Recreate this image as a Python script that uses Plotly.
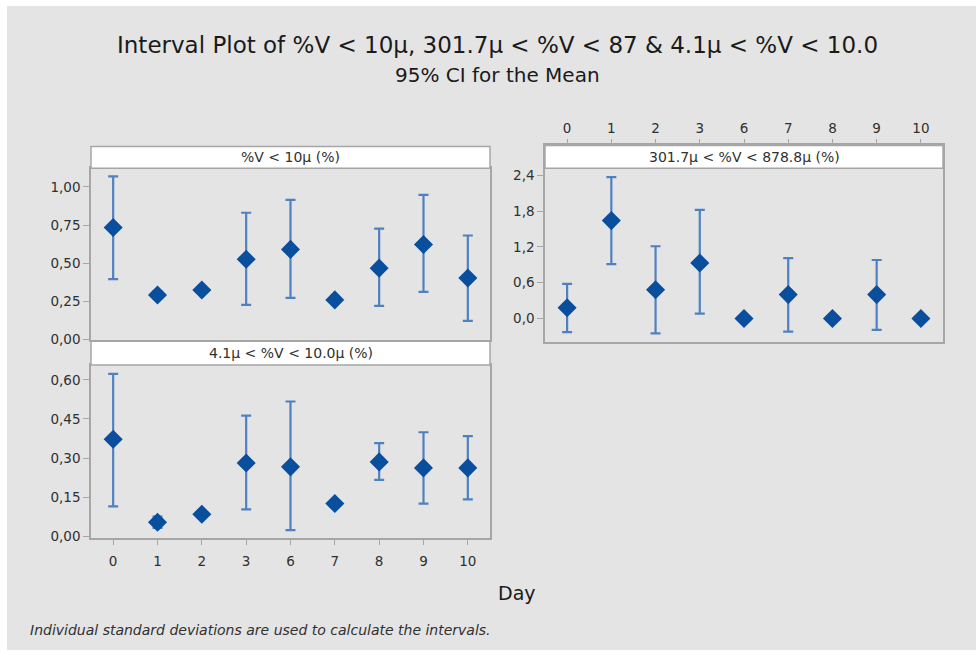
import plotly.graph_objects as go

W, H = 976, 657

days = ["0", "1", "2", "3", "6", "7", "8", "9", "10"]

# %V < 10µ (%)
p1_mean = [0.734, 0.292, 0.325, 0.526, 0.591, 0.260, 0.468, 0.623, 0.403]
p1_low  = [0.396, 0.270, 0.310, 0.227, 0.273, 0.248, 0.221, 0.312, 0.123]
p1_high = [1.070, 0.318, 0.340, 0.831, 0.916, 0.272, 0.727, 0.948, 0.682]

# 4.1µ < %V < 10.0µ (%)
p2_mean = [0.372, 0.053, 0.084, 0.281, 0.266, 0.125, 0.285, 0.262, 0.262]
p2_low  = [0.114, 0.032, 0.075, 0.103, 0.023, 0.116, 0.216, 0.125, 0.141]
p2_high = [0.623, 0.075, 0.094, 0.463, 0.517, 0.134, 0.357, 0.399, 0.384]

# 301.7µ < %V < 878.8µ (%)
p3_mean = [0.18, 1.64, 0.48, 0.93, 0.0, 0.40, 0.0, 0.40, 0.0]
p3_low  = [-0.23, 0.91, -0.25, 0.08, 0.0, -0.22, 0.0, -0.19, 0.0]
p3_high = [0.58, 2.37, 1.21, 1.82, 0.0, 1.01, 0.0, 0.98, 0.0]

p1_ticks = [0.0, 0.25, 0.5, 0.75, 1.0]
p1_ticktext = ["0,00", "0,25", "0,50", "0,75", "1,00"]
p2_ticks = [0.0, 0.15, 0.30, 0.45, 0.60]
p2_ticktext = ["0,00", "0,15", "0,30", "0,45", "0,60"]
p3_ticks = [0.0, 0.6, 1.2, 1.8, 2.4]
p3_ticktext = ["0,0", "0,6", "1,2", "1,8", "2,4"]

titles = ["%V < 10µ (%)", "4.1µ < %V < 10.0µ (%)", "301.7µ < %V < 878.8µ (%)"]

MARK = "#0a4f9e"
ERR = "#4f80c0"
LINE = "#a6a6a6"
TXT = "#303030"
FONT = "DejaVu Sans"

def px(x):
    return x / W

def py(y):
    return 1 - y / H

fig = go.Figure()

def add_series(mean, low, high, xa, ya):
    plus = [h - m for h, m in zip(high, mean)]
    minus = [m - l for m, l in zip(mean, low)]
    fig.add_trace(go.Scatter(
        x=days, y=mean, mode="markers", xaxis=xa, yaxis=ya,
        marker=dict(symbol="diamond", size=12.5, color=MARK, line=dict(color=MARK, width=2)),
        error_y=dict(type="data", array=plus, arrayminus=minus, color=ERR, thickness=2.2, width=5),
        showlegend=False, hoverinfo="skip"))

add_series(p1_mean, p1_low, p1_high, "x", "y")
add_series(p2_mean, p2_low, p2_high, "x2", "y2")
add_series(p3_mean, p3_low, p3_high, "x3", "y3")

axcommon = dict(showline=True, linecolor=LINE, linewidth=1.5, mirror=True, showgrid=False,
                zeroline=False, tickfont=dict(family=FONT, size=13.5, color=TXT),
                ticks="outside", ticklen=5, tickcolor=LINE, type="category")

ycommon = dict(showline=True, linecolor=LINE, linewidth=1.5, mirror=True, showgrid=False,
               zeroline=False, tickfont=dict(family=FONT, size=13.5, color=TXT),
               ticks="outside", ticklen=6, tickcolor=LINE)

fig.update_layout(
    width=W, height=H,
    margin=dict(l=0, r=0, t=0, b=0),
    paper_bgcolor="white",
    plot_bgcolor="white",
    xaxis=dict(**axcommon, domain=[px(91), px(490)], range=[-0.5, 8.5], anchor="y",
               showticklabels=False),
    yaxis=dict(**ycommon, domain=[py(344), py(170)], range=[-0.005, 1.123], anchor="x",
               tickvals=p1_ticks, ticktext=p1_ticktext),
    xaxis2=dict(**axcommon, domain=[px(91), px(490)], range=[-0.5, 8.5], anchor="y2",
                ticklabelstandoff=5),
    yaxis2=dict(**ycommon, domain=[py(544), py(369)], range=[-0.008, 0.657], anchor="x2",
                tickvals=p2_ticks, ticktext=p2_ticktext),
    xaxis3=dict(**axcommon, domain=[px(545), px(943)], range=[-0.5, 8.5], anchor="y3",
                side="top"),
    yaxis3=dict(**ycommon, domain=[py(346), py(147)], range=[-0.40, 2.90], anchor="x3",
                tickvals=p3_ticks, ticktext=p3_ticktext),
)

shapes = []
shapes.append(dict(type="rect", xref="paper", yref="paper", layer="below",
                   x0=px(7), x1=1, y0=0, y1=py(6),
                   fillcolor="#e4e4e4", line=dict(width=0)))
headers = [(91, 490, 148, 170), (91, 490, 345, 369), (545, 943, 147, 170)]
for (x0, x1, y0, y1) in headers:
    shapes.append(dict(type="rect", xref="paper", yref="paper", layer="above",
                       x0=px(x0), x1=px(x1), y0=py(y1), y1=py(y0),
                       fillcolor="white", line=dict(color=LINE, width=1.5)))
fig.update_layout(shapes=shapes)

annotations = []
for (x0, x1, y0, y1), t in zip(headers, titles):
    annotations.append(dict(text=t, xref="paper", yref="paper", x=px((x0 + x1) / 2),
                            y=py((y0 + y1) / 2), showarrow=False, xanchor="center", yanchor="middle",
                            font=dict(family=FONT, size=14, color=TXT)))
annotations += [
    dict(text="Interval Plot of %V < 10µ, 301.7µ < %V < 87 & 4.1µ < %V < 10.0",
         xref="paper", yref="paper", x=px(497), y=py(45), showarrow=False,
         xanchor="center", yanchor="middle", font=dict(family=FONT, size=23, color="#1a1a1a")),
    dict(text="95% CI for the Mean", xref="paper", yref="paper", x=px(497), y=py(76),
         showarrow=False, xanchor="center", yanchor="middle",
         font=dict(family=FONT, size=20, color="#1a1a1a")),
    dict(text="Day", xref="paper", yref="paper", x=px(517), y=py(599), showarrow=False,
         xanchor="center", yanchor="middle", font=dict(family=FONT, size=19, color="#1a1a1a")),
    dict(text="<i>Individual standard deviations are used to calculate the intervals.</i>",
         xref="paper", yref="paper", x=px(28), y=py(637), showarrow=False,
         xanchor="left", yanchor="middle", font=dict(family=FONT, size=14, color=TXT)),
]
fig.update_layout(annotations=annotations)

fig.write_html("out.html")
